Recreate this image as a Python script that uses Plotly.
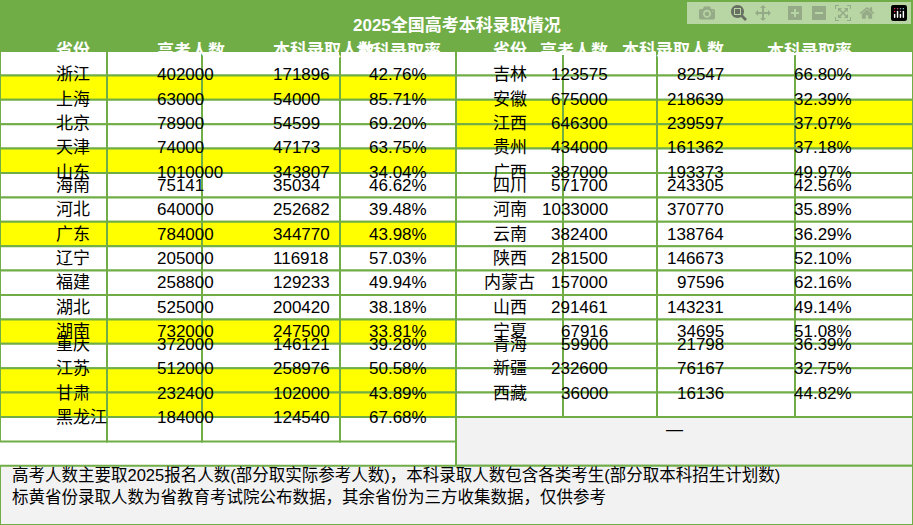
import plotly.graph_objects as go

title = "2025全国高考本科录取情况"
headers = ["省份", "高考人数", "本科录取人数", "本科录取率"]

left_prov = ["浙江", "上海", "北京", "天津", "山东", "海南", "河北", "广东", "辽宁",
             "福建", "湖北", "湖南", "重庆", "江苏", "甘肃", "黑龙江"]
left_exam = [402000, 63000, 78900, 74000, 1010000, 75141, 640000, 784000, 205000,
             258800, 525000, 732000, 372000, 512000, 232400, 184000]
left_admit = [171896, 54000, 54599, 47173, 343807, 35034, 252682, 344770, 116918,
              129233, 200420, 247500, 146121, 258976, 102000, 124540]
left_rate = ["42.76%", "85.71%", "69.20%", "63.75%", "34.04%", "46.62%", "39.48%", "43.98%",
             "57.03%", "49.94%", "38.18%", "33.81%", "39.28%", "50.58%", "43.89%", "67.68%"]
left_hl = [0, 1, 0, 0, 1, 0, 0, 1, 0, 0, 0, 1, 0, 1, 1, 0]

right_prov = ["吉林", "安徽", "江西", "贵州", "广西", "四川", "河南", "云南", "陕西",
              "内蒙古", "山西", "宁夏", "青海", "新疆", "西藏"]
right_exam = [123575, 675000, 646300, 434000, 387000, 571700, 1033000, 382400, 281500,
              157000, 291461, 67916, 59900, 232600, 36000]
right_admit = [82547, 218639, 239597, 161362, 193373, 243305, 370770, 138764, 146673,
               97596, 143231, 34695, 21798, 76167, 16136]
right_rate = ["66.80%", "32.39%", "37.07%", "37.18%", "49.97%", "42.56%", "35.89%", "36.29%",
              "52.10%", "62.16%", "49.14%", "51.08%", "36.39%", "32.75%", "44.82%"]
right_hl = [0, 0, 1, 1, 0, 0, 0, 0, 0, 0, 0, 0, 0, 0, 0]

notes = ["高考人数主要取2025报名人数(部分取实际参考人数)，本科录取人数包含各类考生(部分取本科招生计划数)",
         "标黄省份录取人数为省教育考试院公布数据，其余省份为三方收集数据，仅供参考"]

GREEN = "#70AD47"
YELLOW = "#FFFF00"
GRAY = "#F2F2F2"
FONT = "Liberation Sans, Noto Sans CJK SC"

W, H = 913, 525
left_cols = [0, 107, 202, 340, 456]
right_cols = [456, 563, 657, 795, 913]
top_title, top_head, top_rows = 0, 26, 51
row_h = 24.4
foot_top = top_rows + 17 * row_h

shapes, annots = [], []

# pixel -> paper coords
def px(x):
    return x / W

def py(y):
    return 1 - y / H

def cell(x0, x1, y0, y1, fill, text, size=17, color="black", bold=False):
    shapes.append(dict(type="rect", xref="paper", yref="paper", x0=px(x0), x1=px(x1),
                       y0=py(y0), y1=py(y1), fillcolor=fill,
                       line=dict(color=GREEN, width=2), layer="below"))
    if text:
        annots.append(dict(xref="paper", yref="paper", x=px((x0 + x1) / 2), y=py((y0 + y1) / 2),
                           text=("<b>%s</b>" % text) if bold else text,
                           showarrow=False, font=dict(size=size, color=color, family=FONT)))

cell(0, W, top_title, top_head, GREEN, title, 17, "white", True)
for cols in (left_cols, right_cols):
    for i, h in enumerate(headers):
        cell(cols[i], cols[i + 1], top_head, top_rows, GREEN, h, 17, "white", True)

def table(cols, prov, exam, admit, rate, hl):
    for r in range(len(prov)):
        y0 = top_rows + r * row_h
        fill = YELLOW if hl[r] else "white"
        vals = [prov[r], str(exam[r]), str(admit[r]), rate[r]]
        for i, v in enumerate(vals):
            cell(cols[i], cols[i + 1], y0, y0 + row_h, fill, v)

table(left_cols, left_prov, left_exam, left_admit, left_rate, left_hl)
table(right_cols, right_prov, right_exam, right_admit, right_rate, right_hl)
y0 = top_rows + len(right_prov) * row_h
cell(right_cols[0], right_cols[-1], y0, y0 + 2 * row_h, GRAY, "—")
cell(0, W, foot_top, H, GRAY, "")
for k, n in enumerate(notes):
    annots.append(dict(xref="paper", yref="paper", x=px(10), y=py(foot_top + 20 + k * 22),
                       text=n, xanchor="left", showarrow=False,
                       font=dict(size=16.5, color="black", family=FONT)))

fig = go.Figure()
fig.update_layout(width=W, height=H, margin=dict(l=0, r=0, t=0, b=0, pad=0), showlegend=False,
                  shapes=shapes, annotations=annots, plot_bgcolor="white", paper_bgcolor="white",
                  xaxis=dict(visible=False), yaxis=dict(visible=False))
fig.write_html("out.html", post_script="document.body.style.margin='0';document.body.style.overflow='hidden';")
